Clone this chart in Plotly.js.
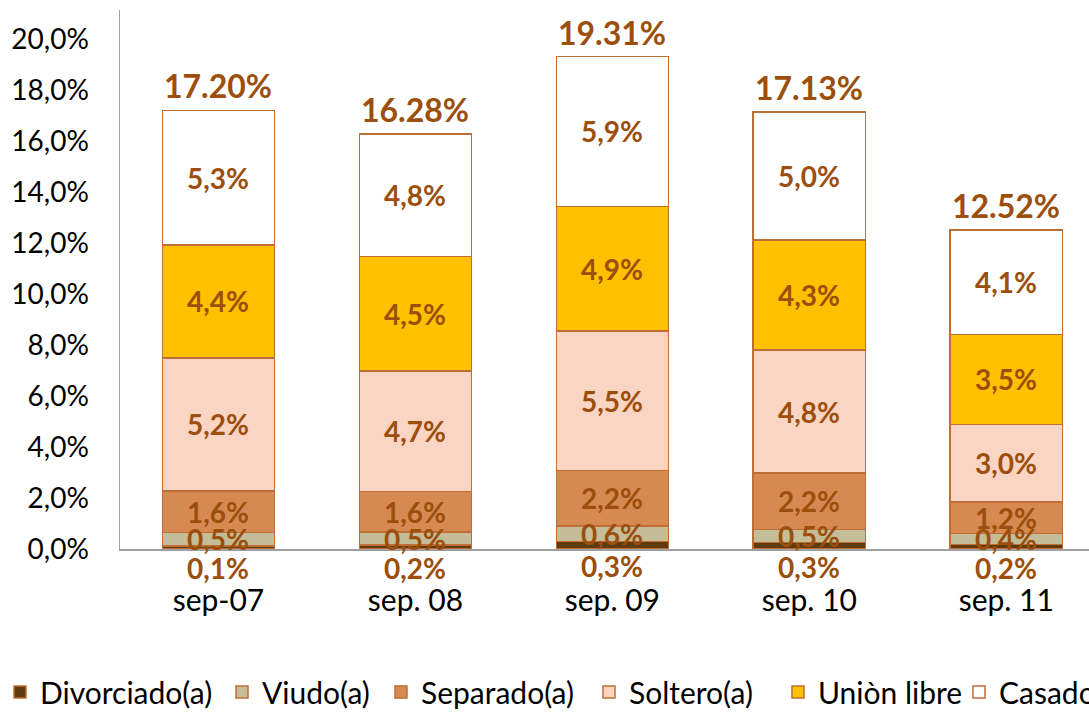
<!DOCTYPE html>
<html>
<head>
<meta charset="utf-8">
<script src="https://cdn.plot.ly/plotly-3.0.1.min.js"></script>
<style>html,body{margin:0;padding:0;background:#fff;overflow:hidden}#chart{width:1089px;height:718px}</style>
</head>
<body>
<div id="chart"></div>
<script>
const categories = ["sep-07", "sep. 08", "sep. 09", "sep. 10", "sep. 11"];
const seriesNames = ["Divorciado(a)", "Viudo(a)", "Separado(a)", "Soltero(a)", "Uniòn libre", "Casado"];
const divorciado = [0.12, 0.16, 0.30, 0.26, 0.18];
const viudo      = [0.52, 0.50, 0.60, 0.50, 0.42];
const separado   = [1.64, 1.60, 2.18, 2.22, 1.24];
const soltero    = [5.22, 4.72, 5.48, 4.82, 3.04];
const unionLibre = [4.43, 4.50, 4.88, 4.32, 3.54];
const casado     = [5.27, 4.80, 5.87, 5.01, 4.10];
const totals     = [17.20, 16.28, 19.31, 17.13, 12.52];
const totalLabels = ["17.20%", "16.28%", "19.31%", "17.13%", "12.52%"];
const yTicks = [0, 2, 4, 6, 8, 10, 12, 14, 16, 18, 20];

const series = [divorciado, viudo, separado, soltero, unionLibre, casado];
const colors = ["#5E3A0C", "#C4BD97", "#D68A52", "#FBD5C3", "#FFC000", "#FFFFFF"];
const legendGroups = ["legend", "legend", "legend", "legend", "legend2", "legend2"];
const legendWidths = [177, 114, 163, 146, 136, 100];
const borderColor = "#BF6F35";
const labelColor = "#9C4E0C";
const FONT = "Lato, 'Liberation Sans', sans-serif";

const traces = series.map((vals, i) => ({
  type: "bar",
  name: seriesNames[i],
  x: categories,
  y: vals,
  legend: legendGroups[i],
  legendwidth: legendWidths[i],
  marker: {color: colors[i], line: {color: borderColor, width: 1.5}},
  hoverinfo: "skip"
}));

const annotations = [];
const cum = categories.map(() => 0);
series.forEach((vals, i) => {
  vals.forEach((v, j) => {
    const mid = cum[j] + v / 2;
    annotations.push({
      x: categories[j], y: mid, xref: "x", yref: "y",
      text: (Math.round(v * 10) / 10).toFixed(1).replace(".", ",") + "%",
      showarrow: false,
      yshift: i === 0 ? -21 : 0,
      font: {family: FONT, size: 28, color: labelColor, weight: "bold"}
    });
    cum[j] += v;
  });
});
totals.forEach((t, j) => {
  annotations.push({
    x: categories[j], y: t, xref: "x", yref: "y",
    text: totalLabels[j], showarrow: false, yanchor: "bottom", yshift: 3,
    font: {family: FONT, size: 32, color: labelColor, weight: "bold"}
  });
});

const legendBase = {
  orientation: "h", xanchor: "left",
  xref: "container", yref: "container", y: -0.027, yanchor: "bottom",
  traceorder: "normal",
  font: {family: FONT, size: 30, color: "#000"},
  itemwidth: 30, tracegroupgap: 0
};

const layout = {
  width: 1089, height: 718,
  margin: {l: 120, r: 0, t: 10, b: 169},
  barmode: "stack",
  bargap: 0.43,
  paper_bgcolor: "#fff", plot_bgcolor: "#fff",
  showlegend: true,
  legend: Object.assign({}, legendBase, {x: 0.0}),
  legend2: Object.assign({}, legendBase, {x: 0.7144}),
  xaxis: {
    type: "category",
    range: [-0.5, 4.42],
    showline: true, linecolor: "#A0A0A0", linewidth: 1.5,
    ticks: "", showgrid: false, zeroline: false,
    ticklabelstandoff: 24,
    tickfont: {family: FONT, size: 30, color: "#000"}
  },
  yaxis: {
    range: [0, 21.14],
    tickvals: yTicks,
    ticktext: yTicks.map(v => v.toFixed(1).replace(".", ",") + "%"),
    showline: true, linecolor: "#A0A0A0", linewidth: 1.5,
    ticks: "", showgrid: false, zeroline: false,
    ticklabelstandoff: 24,
    tickfont: {family: FONT, size: 28, color: "#000"}
  },
  annotations: annotations
};

Plotly.newPlot("chart", traces, layout, {displayModeBar: false, staticPlot: true});
</script>
</body>
</html>
